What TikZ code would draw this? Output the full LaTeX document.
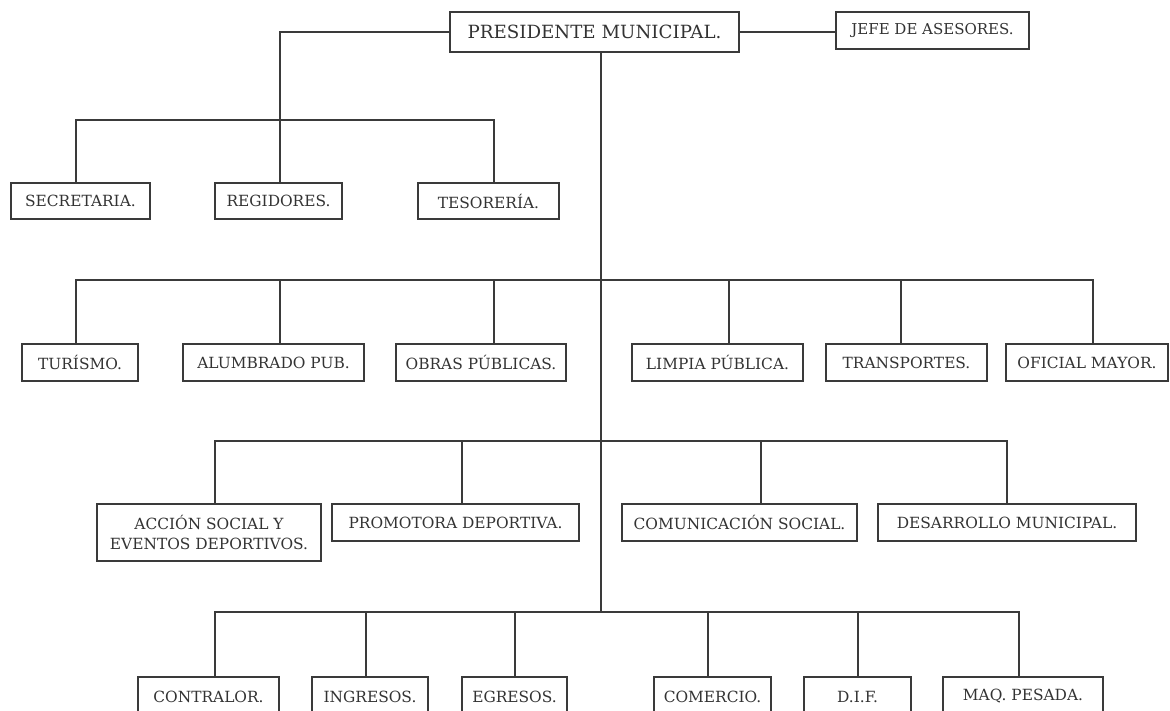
\documentclass[tikz,border=0pt]{standalone}
\usepackage{fontspec}
\setmainfont{DejaVu Serif}
\definecolor{ink}{HTML}{3A3A3A}
\definecolor{txt}{HTML}{333333}
\tikzset{
  orgbox/.style={draw=ink, line width=1.5pt, fill=white, inner sep=0pt, align=center,
    text=txt, font=\fontsize{15.4}{19.5}\selectfont},
  conn/.style={draw=ink, line width=1.4pt},
}
\begin{document}
\begin{tikzpicture}[x=1pt, y=-1pt]
\useasboundingbox (0,0) rectangle (1170,711);
% top
\node[orgbox, font=\fontsize{18.2}{21}\selectfont, minimum width=289pt, minimum height=40pt] (pres) at (594.5,32) {PRESIDENTE MUNICIPAL.};
\node[orgbox, font=\fontsize{15}{18}\selectfont, minimum width=193pt, minimum height=37pt] (jefe) at (932.5,30.5) {JEFE DE ASESORES.};
% level 1
\node[orgbox, minimum width=139pt, minimum height=36pt] (sec) at (80.5,201) {SECRETARIA.};
\node[orgbox, minimum width=127pt, minimum height=36pt] (reg) at (278.5,201) {REGIDORES.};
\node[orgbox, minimum width=141pt, minimum height=36pt] (tes) at (488.5,201) {TESORERÍA.};
% level 2
\node[orgbox, minimum width=116pt, minimum height=37pt] (tur) at (80,362.5) {TURÍSMO.};
\node[orgbox, minimum width=181pt, minimum height=37pt] (alu) at (273.5,362.5) {ALUMBRADO PUB.};
\node[orgbox, minimum width=170pt, minimum height=37pt] (obr) at (481,362.5) {OBRAS PÚBLICAS.};
\node[orgbox, minimum width=171pt, minimum height=37pt] (lim) at (717.5,362.5) {LIMPIA PÚBLICA.};
\node[orgbox, minimum width=161pt, minimum height=37pt] (tra) at (906.5,362.5) {TRANSPORTES.};
\node[orgbox, minimum width=162pt, minimum height=37pt] (ofi) at (1087,362.5) {OFICIAL MAYOR.};
% level 3
\node[orgbox, minimum width=224pt, minimum height=57pt] (acc) at (209,532.5) {ACCIÓN SOCIAL Y\\EVENTOS DEPORTIVOS.};
\node[orgbox, minimum width=247pt, minimum height=37pt] (pro) at (455.5,522.5) {PROMOTORA DEPORTIVA.};
\node[orgbox, minimum width=235pt, minimum height=37pt] (com) at (739.5,522.5) {COMUNICACIÓN SOCIAL.};
\node[orgbox, minimum width=258pt, minimum height=37pt] (des) at (1007,522.5) {DESARROLLO MUNICIPAL.};
% level 4
\node[orgbox, minimum width=141pt, minimum height=39pt] (con) at (208.5,696.5) {CONTRALOR.};
\node[orgbox, minimum width=116pt, minimum height=39pt] (ing) at (370,696.5) {INGRESOS.};
\node[orgbox, minimum width=105pt, minimum height=39pt] (egr) at (514.5,696.5) {EGRESOS.};
\node[orgbox, minimum width=117pt, minimum height=39pt] (cme) at (712.5,696.5) {COMERCIO.};
\node[orgbox, minimum width=107pt, minimum height=39pt] (dif) at (857.5,696.5) {D.I.F.};
\node[orgbox, minimum width=160pt, minimum height=39pt] (maq) at (1023,696.5) {MAQ. PESADA.};
% junctions
\coordinate (j1) at (280,120);
\coordinate (j2) at (601,280);
\coordinate (j3) at (601,441);
\coordinate (j4) at (601,612);
% connectors
\draw[conn] (pres.east) -- (pres.east -| jefe.west);
\draw[conn] (pres.west) -| ([xshift=1.5pt]reg.north);
\draw[conn] (pres.south -| j4) -- (j4);
\draw[conn] ([xshift=-4.5pt]sec.north) |- ([xshift=5.5pt]tes.north |- j1) -- ([xshift=5.5pt]tes.north);
\draw[conn] ([xshift=-4pt]tur.north) |- ([xshift=6pt]ofi.north |- j2) -- ([xshift=6pt]ofi.north);
\foreach \n/\s in {alu/6.5, obr/13, lim/11.5, tra/-5.5}
  \draw[conn] ([xshift=\s pt]\n.north) -- ([xshift=\s pt]\n.north |- j2);
\draw[conn] ([xshift=6pt]acc.north) |- (des.north |- j3) -- (des.north);
\foreach \n/\s in {pro/6.5, com/21.5}
  \draw[conn] ([xshift=\s pt]\n.north) -- ([xshift=\s pt]\n.north |- j3);
\draw[conn] ([xshift=6.5pt]con.north) |- ([xshift=-4pt]maq.north |- j4) -- ([xshift=-4pt]maq.north);
\foreach \n/\s in {ing/-4, egr/0.5, cme/-4.5, dif/0.5}
  \draw[conn] ([xshift=\s pt]\n.north) -- ([xshift=\s pt]\n.north |- j4);
\end{tikzpicture}
\end{document}
